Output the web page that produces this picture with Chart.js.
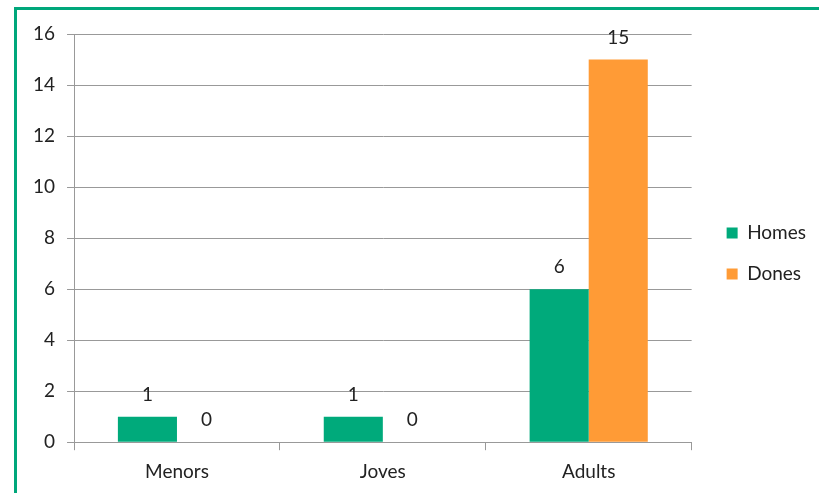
<!DOCTYPE html>
<html>
<head>
<meta charset="utf-8">
<script src="https://cdn.jsdelivr.net/npm/chart.js@4.4.0/dist/chart.umd.min.js"></script>
<style>
  html, body { margin: 0; padding: 0; background: #fff; overflow: hidden; }
  #wrap { position: relative; width: 819px; height: 493px; }
  #frame { position: absolute; left: 14px; top: 7px; width: 900px; height: 600px;
           border: 3px solid #00a77b; pointer-events: none; }
  canvas { position: absolute; left: 0; top: 0; }
</style>
</head>
<body>
<div id="wrap">
  <canvas id="chart-1" width="819" height="493"></canvas>
  <div id="frame"></div>
</div>
<script>
const categories = ['Menors', 'Joves', 'Adults'];
const homes = [1, 1, 6];
const dones = [0, 0, 15];
const yTicks = [0, 2, 4, 6, 8, 10, 12, 14, 16];

const green = '#00aa7b';
const orange = '#ff9b36';
const fontFamily = 'Lato';
const fontSize = 19;

// etiquetes de valor sobre cada barra
const valueLabels = {
    id: 'valueLabels',
    afterDatasetsDraw(chart) {
        const ctx = chart.ctx;
        ctx.save();
        ctx.font = fontSize + 'px ' + fontFamily;
        ctx.fillStyle = '#222';
        ctx.textAlign = 'center';
        ctx.textBaseline = 'middle';
        chart.data.datasets.forEach(function (ds, i) {
            chart.getDatasetMeta(i).data.forEach(function (bar, j) {
                ctx.fillText(String(ds.data[j]), bar.x, bar.y - 22);
            });
        });
        ctx.restore();
    }
};

const data = {
    labels: categories,
    datasets: [
        { label: 'Homes', data: homes, backgroundColor: green, borderWidth: 0 },
        { label: 'Dones', data: dones, backgroundColor: orange, borderWidth: 0 }
    ]
};

const options = {
    responsive: false,
    animation: false,
    layout: { padding: { top: 14, left: 21, right: 3, bottom: 0 } },
    datasets: { bar: { categoryPercentage: 0.574, barPercentage: 1.0 } },
    scales: {
        x: {
            grid: { display: true, drawOnChartArea: false, drawTicks: true, tickLength: 8, color: '#999' },
            border: { color: '#999', width: 1 },
            ticks: { color: '#222', font: { family: fontFamily, size: fontSize }, padding: 10 }
        },
        // eixos buits només per deixar espai
        xTop: {
            type: 'category',
            position: 'top',
            labels: categories,
            grid: { display: false },
            ticks: { display: false },
            border: { display: false },
            afterFit: function (axis) { axis.height = 20; }
        },
        y: {
            min: 0,
            max: 16,
            afterBuildTicks: function (axis) {
                axis.ticks = yTicks.map(function (v) { return { value: v }; });
            },
            grid: { color: '#999', tickLength: 7 },
            border: { color: '#999', width: 1 },
            ticks: { color: '#222', font: { family: fontFamily, size: fontSize }, padding: 12 }
        },
        yRight: {
            type: 'linear',
            position: 'right',
            grid: { display: false },
            ticks: { display: false },
            border: { display: false },
            afterFit: function (axis) { axis.width = 13; }
        }
    },
    plugins: {
        legend: {
            position: 'right',
            labels: {
                boxWidth: 11,
                boxHeight: 11,
                padding: 22,
                color: '#222',
                font: { family: fontFamily, size: fontSize }
            }
        },
        tooltip: { enabled: false }
    }
};

const ctx = document.getElementById('chart-1').getContext('2d');
const chart = new Chart(ctx, { type: 'bar', data: data, options: options, plugins: [valueLabels] });
</script>
</body>
</html>
